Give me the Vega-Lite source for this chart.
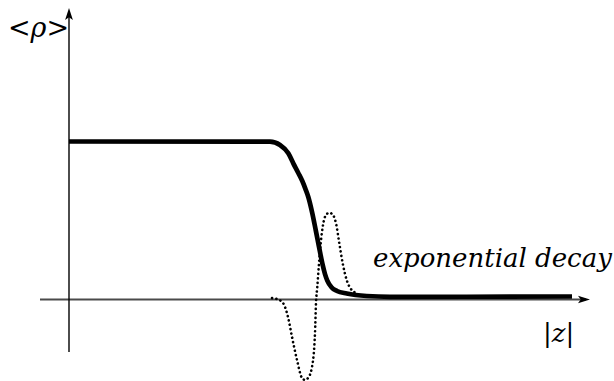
{
  "$schema": "https://vega.github.io/schema/vega-lite/v6.json",
  "width": 614,
  "height": 381,
  "padding": 0,
  "autosize": {"type": "none"},
  "background": "white",
  "config": {"view": {"stroke": null}},
  "datasets": {
    "profile": [
      {"z": 0.0, "rho": 1.0},
      {"z": 2.01, "rho": 0.999},
      {"z": 2.11, "rho": 0.978},
      {"z": 2.193, "rho": 0.925},
      {"z": 2.243, "rho": 0.862},
      {"z": 2.293, "rho": 0.801},
      {"z": 2.333, "rho": 0.75},
      {"z": 2.365, "rho": 0.699},
      {"z": 2.393, "rho": 0.649},
      {"z": 2.433, "rho": 0.546},
      {"z": 2.467, "rho": 0.44},
      {"z": 2.5, "rho": 0.334},
      {"z": 2.533, "rho": 0.229},
      {"z": 2.56, "rho": 0.161},
      {"z": 2.583, "rho": 0.12},
      {"z": 2.627, "rho": 0.076},
      {"z": 2.68, "rho": 0.054},
      {"z": 2.777, "rho": 0.038},
      {"z": 2.977, "rho": 0.022},
      {"z": 3.21, "rho": 0.017},
      {"z": 5.03, "rho": 0.019}
    ],
    "oscillation": [
      {"z": 2.03, "rho": 0.009},
      {"z": 2.08, "rho": 0.003},
      {"z": 2.14, "rho": -0.022},
      {"z": 2.19, "rho": -0.111},
      {"z": 2.23, "rho": -0.237},
      {"z": 2.28, "rho": -0.383},
      {"z": 2.33, "rho": -0.497},
      {"z": 2.36, "rho": -0.509},
      {"z": 2.39, "rho": -0.497},
      {"z": 2.43, "rho": -0.427},
      {"z": 2.46, "rho": -0.212},
      {"z": 2.47, "rho": -0.022},
      {"z": 2.483, "rho": 0.081},
      {"z": 2.5, "rho": 0.229},
      {"z": 2.517, "rho": 0.356},
      {"z": 2.543, "rho": 0.482},
      {"z": 2.57, "rho": 0.535},
      {"z": 2.603, "rho": 0.549},
      {"z": 2.64, "rho": 0.535},
      {"z": 2.67, "rho": 0.482},
      {"z": 2.703, "rho": 0.356},
      {"z": 2.737, "rho": 0.229},
      {"z": 2.777, "rho": 0.123},
      {"z": 2.827, "rho": 0.06},
      {"z": 2.86, "rho": 0.044}
    ],
    "xaxis": [{"z1": -0.29, "z2": 5.17, "rho": 0}],
    "yaxis": [{"z": 0.0, "rho1": -0.332, "rho2": 1.8}],
    "xarrow": [{"z": 5.15, "rho": 0}],
    "yarrow": [{"z": 0.0, "rho": 1.807}],
    "labels": [
      {"z": 3.04, "rho": 0.208, "text": "exponential decay", "size": 26},
      {"z": -0.61, "rho": 1.661, "text": "<ρ>", "size": 27},
      {"z": 4.74, "rho": -0.269, "text": "|z|", "size": 26}
    ]
  },
  "layer": [
    {
      "data": {"name": "xaxis"},
      "mark": {"type": "rule", "color": "#4a4a4a", "strokeWidth": 1.8},
      "encoding": {
        "x": {"field": "z1", "type": "quantitative", "scale": {"domain": [-0.69, 5.45], "nice": false, "zero": false}, "axis": null},
        "x2": {"field": "z2"},
        "y": {"field": "rho", "type": "quantitative", "scale": {"domain": [-0.5158, 1.8956], "nice": false, "zero": false}, "axis": null}
      }
    },
    {
      "data": {"name": "yaxis"},
      "mark": {"type": "rule", "color": "black", "strokeWidth": 1.4},
      "encoding": {
        "x": {"field": "z", "type": "quantitative", "axis": null},
        "y": {"field": "rho1", "type": "quantitative", "axis": null},
        "y2": {"field": "rho2"}
      }
    },
    {
      "data": {"name": "xarrow"},
      "mark": {"type": "point", "filled": true, "color": "black", "opacity": 1, "size": 144, "shape": "M1,0 L-1,-0.62 L-0.55,0 L-1,0.62 Z"},
      "encoding": {
        "x": {"field": "z", "type": "quantitative", "axis": null},
        "y": {"field": "rho", "type": "quantitative", "axis": null}
      }
    },
    {
      "data": {"name": "yarrow"},
      "mark": {"type": "point", "filled": true, "color": "black", "opacity": 1, "size": 144, "shape": "M0,-1 L-0.65,1 L0,0.55 L0.65,1 Z"},
      "encoding": {
        "x": {"field": "z", "type": "quantitative", "axis": null},
        "y": {"field": "rho", "type": "quantitative", "axis": null}
      }
    },
    {
      "data": {"name": "oscillation"},
      "mark": {"type": "line", "color": "black", "strokeWidth": 2.6, "strokeDash": [0.1, 4.3], "strokeCap": "round", "interpolate": "monotone"},
      "encoding": {
        "x": {"field": "z", "type": "quantitative", "axis": null},
        "y": {"field": "rho", "type": "quantitative", "axis": null},
        "order": {"field": "z", "type": "quantitative"}
      }
    },
    {
      "data": {"name": "profile"},
      "mark": {"type": "line", "color": "black", "strokeWidth": 4.7, "interpolate": "monotone"},
      "encoding": {
        "x": {"field": "z", "type": "quantitative", "axis": null},
        "y": {"field": "rho", "type": "quantitative", "axis": null}
      }
    },
    {
      "data": {"name": "labels"},
      "mark": {"type": "text", "align": "left", "baseline": "alphabetic", "font": "DejaVu Serif", "fontStyle": "italic", "color": "black"},
      "encoding": {
        "x": {"field": "z", "type": "quantitative", "axis": null},
        "y": {"field": "rho", "type": "quantitative", "axis": null},
        "size": {"field": "size", "type": "quantitative", "scale": null, "legend": null},
        "text": {"field": "text"}
      }
    }
  ]
}
